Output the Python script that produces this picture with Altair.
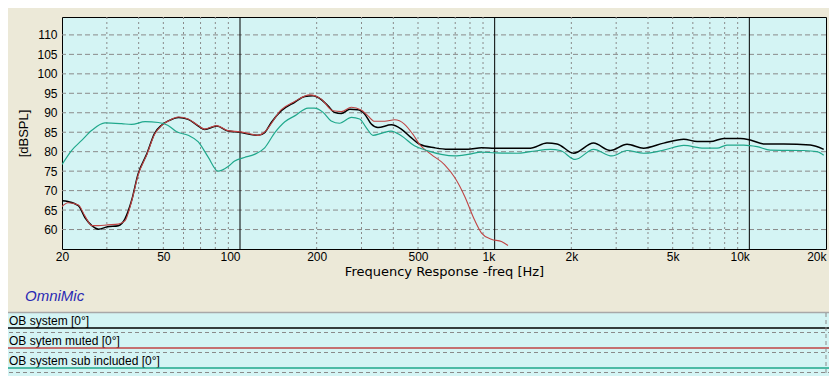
import altair as alt
import pandas as pd

# ---------------- data ----------------
sys_f = [20, 21.1, 23.2, 24.6, 26.2, 27.8, 30.2, 33.3, 35.3, 37.5, 39.8, 43.1, 46.2, 49.2,
         52.3, 57.4, 62.6, 68.6, 72.7, 81, 89.8, 100, 104.3, 117.7, 125, 132.7, 145.3, 163.9,
         179.5, 193.5, 208.6, 221.5, 235, 250, 270, 290.5, 308.5, 327.7, 348, 392.8, 430, 470,
         507, 581, 656, 786, 888, 1000, 1380, 1605, 1757, 2042, 2445, 2846, 3309, 3845, 4611,
         5530, 6238, 7036, 7930, 9215, 10090, 11370, 13620, 17360, 19590]
sys_db = [67.4, 67.2, 66.1, 63.1, 61.0, 60.1, 60.7, 61.0, 62.7, 67.4, 74.3, 79.5, 84.7, 86.8,
          87.9, 88.8, 88.3, 86.6, 85.7, 86.6, 85.3, 85.0, 84.7, 84.2, 84.9, 87.5, 90.5, 92.7,
          94.2, 94.4, 93.4, 91.8, 90.1, 89.8, 90.9, 90.8, 89.7, 87.1, 86.2, 86.9, 85.8, 83.6,
          81.9, 81.0, 80.6, 80.6, 81.0, 80.9, 80.9, 82.2, 82.0, 79.6, 82.2, 80.3, 81.9, 80.9, 82.2,
          83.2, 82.6, 82.6, 83.4, 83.4, 83.0, 82.0, 82.0, 81.7, 80.6]

muted_f = [20, 21.1, 23.2, 24.6, 26.2, 27.8, 30.2, 33.3, 35.3, 37.5, 39.8, 43.1, 46.2, 49.2,
           52.3, 57.4, 62.6, 68.6, 72.7, 81, 89.8, 100, 104.3, 117.7, 125, 145.3, 163.9, 187.8,
           208.6, 231.6, 250, 273.6, 299, 318, 337.6, 370, 405, 442, 477, 507, 563, 635, 698,
           763, 833, 888, 970, 1063, 1128]
muted_db = [65.9, 66.9, 66.3, 63.5, 61.0, 61.0, 61.2, 61.4, 62.2, 67.2, 74.0, 79.3, 84.5, 86.7,
            87.9, 88.9, 88.4, 86.7, 85.8, 86.7, 85.4, 85.1, 84.9, 84.2, 85.1, 90.8, 92.9, 94.6,
            93.5, 90.5, 90.3, 91.4, 90.7, 89.2, 87.8, 87.8, 88.2, 87.1, 84.5, 81.9, 79.3, 76.7, 73.3,
            68.5, 62.5, 59.1, 57.5, 56.9, 55.9]

sub_f = [20, 21.8, 23.9, 26.2, 29.5, 34.3, 37.5, 42.4, 47.8, 52, 56.4, 62.6, 68.6, 75, 82,
         89.8, 95.3, 104, 114, 125, 137, 150, 164, 185, 196, 212, 228, 246, 274, 295, 313, 333,
         359, 392, 430, 484, 547, 617, 698, 786, 888, 1000, 1224, 1380, 1654, 1810, 2073, 2445,
         2888, 3309, 3845, 4611, 5530, 6627, 7471, 8166, 9500, 10720, 12090, 16330, 18420, 19590]
sub_db = [76.7, 80.3, 82.9, 85.5, 87.4, 87.2, 87.0, 87.7, 87.5, 86.8, 85.1, 84.2, 82.5, 78.6, 75.0,
          76.2, 77.6, 78.5, 79.3, 81.0, 84.9, 87.7, 89.2, 91.2, 91.2, 90.1, 87.9, 87.3, 88.8, 88.4,
          86.2, 84.2, 84.7, 85.3, 84.1, 81.5, 80.2, 79.3, 78.9, 79.3, 79.9, 79.7, 79.6, 80.0, 80.6,
          80.3, 78.0, 80.6, 78.9, 80.3, 79.6, 80.4, 81.6, 80.9, 80.9, 81.7, 81.7, 81.3, 80.4, 80.3,
          80.0, 79.1]

series_names = ["OB system [0°]", "OB sytem muted [0°]", "OB system sub included [0°]"]
series_colors = ["#000000", "#C04444", "#20A88C"]
series_widths = [1.5, 1.1, 1.2]

y_grid = [60, 65, 70, 75, 80, 85, 90, 95, 100, 105, 110]
x_minor = [30, 40, 50, 60, 70, 80, 90, 200, 300, 400, 500, 600, 700, 800, 900,
           2000, 3000, 4000, 5000, 6000, 7000, 8000, 9000]
x_major = [100, 1000, 10000]
x_labels = [20, 50, 100, 200, 500, 1000, 2000, 5000, 10000, 20000]

FONT = "Liberation Sans"
TITLE_FONT = "DejaVu Sans"
PLOT_BG = "#D4F4F4"
GRID = "#8A8A8A"

# ---------------- encodings ----------------
x_enc = alt.X(
    "f:Q",
    scale=alt.Scale(type="log", domain=[20, 20000], nice=False),
    axis=alt.Axis(
        values=x_labels,
        labelExpr="datum.value >= 1000 ? format(datum.value / 1000, 'd') + 'k' : format(datum.value, 'd')",
        grid=False, ticks=False, domain=False, labelFlush=False,
        labelPadding=2, labelFontSize=12, labelFont=FONT, labelColor="black",
        labelAlign={"condition": {"test": "datum.value == 100 || datum.value == 1000 || datum.value >= 10000",
                                  "value": "right"}, "value": "center"},
        title="Frequency Response -freq [Hz]", titlePadding=3, titleFontSize=13,
        titleFont=TITLE_FONT, titleFontWeight="normal", titleColor="black",
    ),
)
y_enc = alt.Y(
    "db:Q",
    scale=alt.Scale(domain=[55, 114.6], nice=False, zero=False),
    axis=alt.Axis(
        values=y_grid, grid=False, ticks=False, domain=False,
        labelPadding=5, labelFontSize=12, labelFont=FONT, labelColor="black",
        title="[dBSPL]", titlePadding=6, titleFontSize=13, titleFont=FONT,
        titleFontWeight="normal", titleColor="black",
    ),
)

layers = []

# grid lines
layers.append(alt.Chart(pd.DataFrame({"db": y_grid})).mark_rule(
    color=GRID, strokeDash=[5, 3], strokeWidth=1).encode(y=y_enc))
layers.append(alt.Chart(pd.DataFrame({"f": x_minor})).mark_rule(
    color=GRID, strokeDash=[2, 3], strokeWidth=1).encode(x=x_enc))
layers.append(alt.Chart(pd.DataFrame({"f": x_major})).mark_rule(
    color="black", strokeWidth=1).encode(x=x_enc))

# curves
for fs, dbs, c, w in zip([sys_f, muted_f, sub_f], [sys_db, muted_db, sub_db],
                         series_colors, series_widths):
    layers.append(alt.Chart(pd.DataFrame({"f": fs, "db": dbs})).mark_line(
        color=c, strokeWidth=w, interpolate="monotone", clip=True).encode(x=x_enc, y=y_enc))

# ---------------- decorations below the plot (legend panel) ----------------
PANEL_TOP = 296      # relative to the plot origin
ROW_H = 20
one = pd.DataFrame({"k": [0]})
layers.append(alt.Chart(one).mark_text(
    text="OmniMic", font=FONT, fontSize=15, fontStyle="italic", color="#2A2AB4",
    align="left", baseline="alphabetic").encode(x=alt.value(-37), y=alt.value(284)))
layers.append(alt.Chart(one).mark_rect(color=PLOT_BG).encode(
    x=alt.value(-60), x2=alt.value(780), y=alt.value(PANEL_TOP), y2=alt.value(PANEL_TOP + 70)))
layers.append(alt.Chart(one).mark_rule(color="#A8A8A8", strokeWidth=1.5).encode(
    x=alt.value(-60), x2=alt.value(780), y=alt.value(PANEL_TOP - 0.5)))
for i, (name, c) in enumerate(zip(series_names, series_colors)):
    base = PANEL_TOP + i * ROW_H
    layers.append(alt.Chart(one).mark_text(
        text=name, font=FONT, fontSize=12, color="black", align="left",
        baseline="alphabetic").encode(x=alt.value(-53), y=alt.value(base + 12)))
    layers.append(alt.Chart(one).mark_rule(color=c, strokeWidth=1.3).encode(
        x=alt.value(-60), x2=alt.value(780), y=alt.value(base + 15)))
    layers.append(alt.Chart(one).mark_rule(color=GRID, strokeDash=[4, 3], strokeWidth=1).encode(
        x=alt.value(-60), x2=alt.value(780), y=alt.value(base + 19.5)))
layers.append(alt.Chart(one).mark_rule(color=GRID, strokeDash=[4, 3], strokeWidth=1).encode(
    x=alt.value(764), y=alt.value(PANEL_TOP), y2=alt.value(PANEL_TOP + 70)))

chart = alt.layer(*layers).properties(
    width=764, height=232,
    autosize=alt.AutoSizeParams(type="none"),
    padding={"left": 54, "top": 9, "right": 3, "bottom": 127},
    background="#ECE9D8",
).configure_view(fill=PLOT_BG, stroke="black", strokeWidth=1)

chart.save("out.html", embed_options={"renderer": "svg", "actions": False})
